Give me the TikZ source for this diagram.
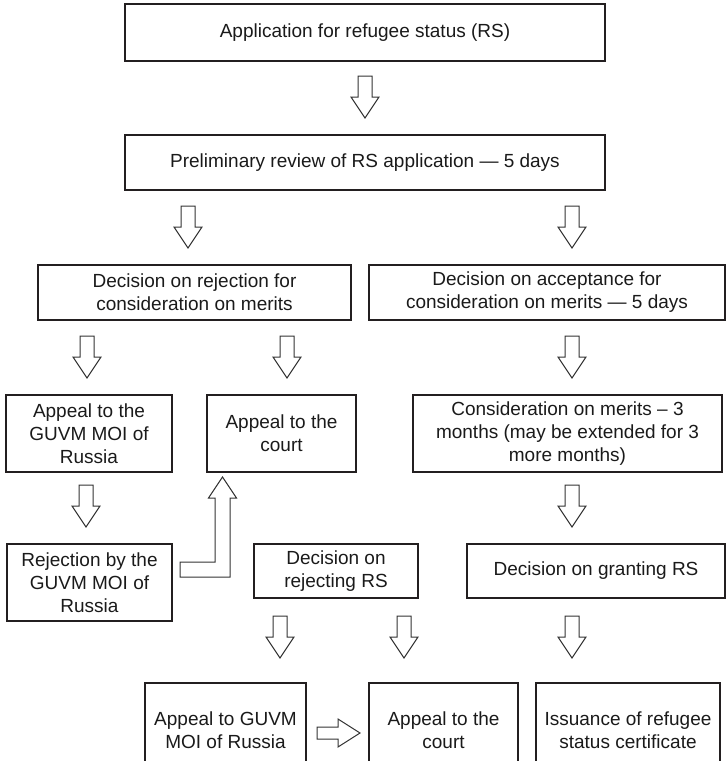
\documentclass[tikz,border=0pt]{standalone}
\usepackage{fontspec}
\setmainfont{Liberation Sans}
\definecolor{boxc}{HTML}{231F20}
\definecolor{txtc}{HTML}{1A1A1A}
\definecolor{arrc}{HTML}{333333}
\newcommand\flowbox[6]{\node[box, minimum width={#4-#2}, minimum height={#5-#3}] (#1) at ({(#2+#4)/2},{(#3+#5)/2}) {#6};}
\begin{document}
\begin{tikzpicture}[x=1pt,y=-1pt,
  box/.style={draw=boxc, line width=2.8pt, align=center, inner sep=0pt,
    font=\fontsize{19}{23}\selectfont, text=txtc},
  arrowline/.style={draw=arrc, line width=1pt, fill=white, line join=miter},
  downarr/.pic={\path[arrowline] (-7,0) -- (-7,21) -- (-14,21) -- (0,42) -- (14,21) -- (7,21) -- (7,0) -- cycle;},
  rightarr/.pic={\path[arrowline] (0,-6) -- (21,-6) -- (21,-14) -- (43,0) -- (21,14) -- (21,6) -- (0,6) -- cycle;}]
\useasboundingbox (0,0) rectangle (727,761);
\clip (0,0) rectangle (727,761);

\flowbox{app}{125}{4}{605}{61}{Application for refugee status (RS)}
\flowbox{pre}{125}{135}{605}{190}{Preliminary review of RS application — 5 days}
\flowbox{rej}{38}{265}{351}{320}{Decision on rejection for\\consideration on merits}
\flowbox{acc}{369}{265}{725}{320}{Decision on acceptance for\\consideration on merits — 5 days}
\flowbox{apg}{6}{395}{172}{472}{Appeal to the\\GUVM MOI of\\Russia}
\flowbox{apc}{207}{395}{356}{472}{Appeal to the\\court}
\flowbox{con}{413}{395}{722}{472}{Consideration on merits – 3\\months (may be extended for 3\\more months)}
\flowbox{rbg}{7}{544}{172}{621}{Rejection by the\\GUVM MOI of\\Russia}
\flowbox{drs}{254}{544}{418}{598}{Decision on\\rejecting RS}
\flowbox{dgr}{467}{544}{725}{598}{Decision on granting RS}
\flowbox{bgu}{145}{683}{306}{778}{Appeal to GUVM\\MOI of Russia}
\flowbox{bco}{369}{683}{518}{778}{Appeal to the\\court}
\flowbox{bis}{536}{683}{720}{778}{Issuance of refugee\\status certificate}

\pic at (365,76) {downarr};
\pic at (188,206) {downarr};
\pic at (572,206) {downarr};
\pic at (87,336) {downarr};
\pic at (287,336) {downarr};
\pic at (572,336) {downarr};
\pic at (86,485) {downarr};
\pic at (572,485) {downarr};
\pic at (280,616) {downarr};
\pic at (404,616) {downarr};
\pic at (572,616) {downarr};
\pic at (317,733) {rightarr};
\path[arrowline] (180,562) -- (215,562) -- (215,498) -- (208.5,498) -- (222.5,477) -- (236.5,498) -- (230,498) -- (230,577) -- (180,577) -- cycle;
\end{tikzpicture}
\end{document}
